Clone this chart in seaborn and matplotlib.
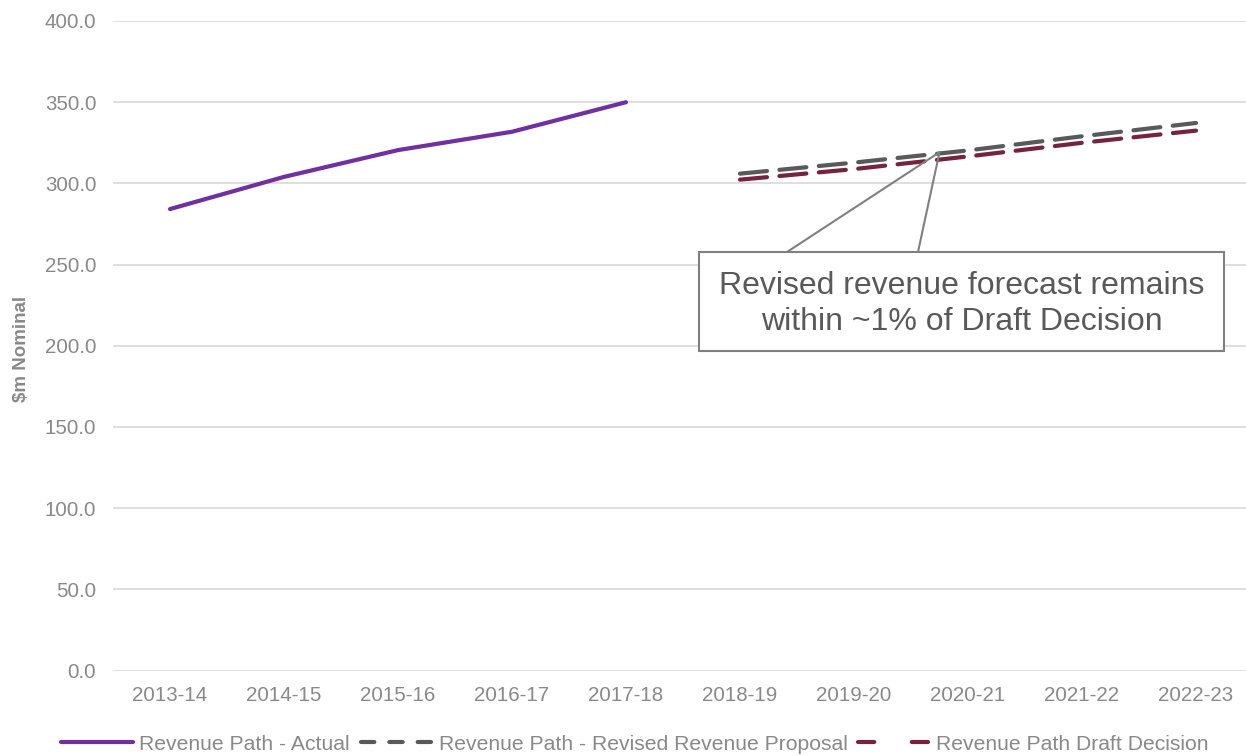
import matplotlib
matplotlib.use("Agg")
import matplotlib.pyplot as plt
import seaborn as sns
import pandas as pd
import numpy as np
from matplotlib.lines import Line2D
from matplotlib.patches import Rectangle

periods = ["2013-14", "2014-15", "2015-16", "2016-17", "2017-18",
           "2018-19", "2019-20", "2020-21", "2021-22", "2022-23"]

actual_periods = ["2013-14", "2014-15", "2015-16", "2016-17", "2017-18"]
actual_values = [284.2, 304.0, 320.5, 331.8, 350.0]

forecast_periods = ["2018-19", "2019-20", "2020-21", "2021-22", "2022-23"]
revised_values = [306.0, 312.8, 320.3, 329.0, 337.2]
draft_values = [302.3, 308.8, 316.6, 325.0, 332.5]

yticks = [0, 50, 100, 150, 200, 250, 300, 350, 400]

label_actual = "Revenue Path - Actual"
label_revised = "Revenue Path - Revised Revenue Proposal"
label_draft = "Revenue Path Draft Decision"
annotation_text = "Revised revenue forecast remains\nwithin ~1% of Draft Decision"
ylabel = r"\$m Nominal"

c_actual = "#7030A0"
c_revised = "#595959"
c_draft = "#772340"
c_text = "#898989"
c_grid = "#d9d9d9"

sns.set_theme(style="white")
plt.rcParams["font.family"] = ["Liberation Sans", "DejaVu Sans"]

W, H = 1246, 756
fig = plt.figure(figsize=(W / 100, H / 100), dpi=100)
ax = fig.add_axes([113 / W, 1 - 670.6 / H, 1140 / W, (670.6 - 21) / H])

def idx(ps):
    return [periods.index(p) for p in ps]

df_a = pd.DataFrame({"x": idx(actual_periods), "y": actual_values})
df_r = pd.DataFrame({"x": idx(forecast_periods), "y": revised_values})
df_d = pd.DataFrame({"x": idx(forecast_periods), "y": draft_values})

lw = 3.0
dash = (6.5, 3.0)
sns.lineplot(data=df_a, x="x", y="y", ax=ax, color=c_actual, lw=lw,
             solid_capstyle="round", zorder=3)
sns.lineplot(data=df_d, x="x", y="y", ax=ax, color=c_draft, lw=lw,
             zorder=3).lines[-1].set(linestyle=(0, dash), dash_capstyle="round")
sns.lineplot(data=df_r, x="x", y="y", ax=ax, color=c_revised, lw=lw,
             zorder=4).lines[-1].set(linestyle=(0, dash), dash_capstyle="round")

ax.set_xlim(-0.5, len(periods) - 0.5)
ax.set_ylim(0, 400)
ax.set_xticks(range(len(periods)))
ax.set_xticklabels(periods)
ax.set_yticks(yticks)
ax.set_yticklabels([f"{v:.1f}" for v in yticks])
ax.tick_params(axis="both", length=0, labelsize=14.8, labelcolor=c_text)
ax.tick_params(axis="x", pad=11)
ax.tick_params(axis="y", pad=12)
ax.set_xlabel("")
ax.set_ylabel(ylabel, fontsize=13.5, fontweight="bold", color=c_text)
ax.yaxis.set_label_coords(-0.073, 0.495)
ax.grid(axis="y", color=c_grid, lw=1.2)
ax.grid(axis="x", visible=False)
for s in ax.spines.values():
    s.set_visible(False)

# annotation callout: leader lines point at the revised line between 2019-20 and 2020-21
tx = 6.75
ty = float(np.interp(tx, idx(forecast_periods), revised_values)) + 0.8
for fx in (787, 918):
    ax.annotate("", xy=(tx, ty), xycoords="data",
                xytext=(fx / W, 1 - 252 / H), textcoords="figure fraction",
                arrowprops=dict(arrowstyle="-", color="#808080", lw=1.5,
                                shrinkA=0, shrinkB=0), zorder=4)
box = Rectangle((699 / W, 1 - 351 / H), (1224 - 699) / W, (351 - 252) / H,
                transform=fig.transFigure, fc="white", ec="#808080", lw=1.5, zorder=5)
fig.add_artist(box)
fig.text(962 / W, 1 - 304 / H, annotation_text, ha="center", va="center",
         fontsize=23, color="#595959", linespacing=1.28, zorder=6)

handles = [
    Line2D([], [], color=c_actual, lw=lw, solid_capstyle="round"),
    Line2D([], [], color=c_revised, lw=lw, linestyle=(0, (3.2, 3.6)), dash_capstyle="round"),
    Line2D([], [], color=c_draft, lw=lw, linestyle=(0, (3.9, 9.0)), dash_capstyle="round"),
]
fig.legend(handles, [label_actual, label_revised, label_draft], loc="center",
           bbox_to_anchor=(635 / W, 1 - 744 / H), ncol=3, frameon=False,
           fontsize=15.2, labelcolor=c_text, handlelength=3.4, handletextpad=0.3,
           columnspacing=0.5)

fig.savefig("out.png", dpi=100)
